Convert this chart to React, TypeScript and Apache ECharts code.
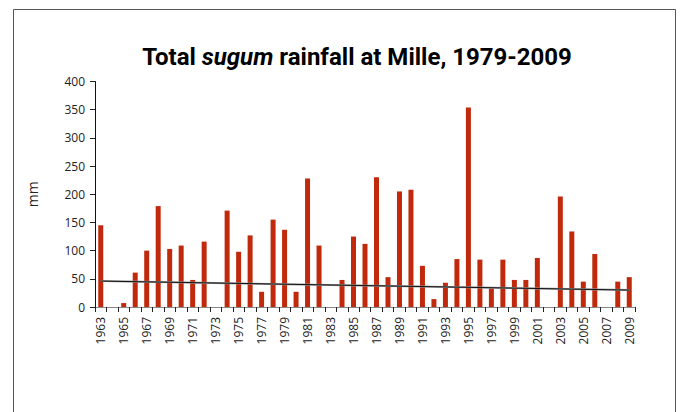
import React, { useEffect, useRef } from "react";
import * as echarts from "echarts";

const years: string[] = [];
for (let y = 1963; y <= 2009; y++) years.push(String(y));

const rainfall: (number | null)[] = [
  145, 0, 7, 61, 100, 179, 103, 109, 48, 116,
  0, 171, 98, 127, 27, 155, 137, 27, 228, 109,
  0, 48, 125, 112, 230, 53, 205, 208, 73, 14,
  43, 85, 354, 84, 33, 84, 48, 48, 87, 0,
  196, 134, 45, 94, 0, 45, 53,
];

const trendStart = 46;
const trendEnd = 30;

const yTicks = { min: 0, max: 400, interval: 50 };

export default function App() {
  const ref = useRef<HTMLDivElement>(null);
  useEffect(() => {
    if (!ref.current) return;
    const chart = echarts.init(ref.current, undefined, { renderer: "svg" });
    const trend = years.map((_, i) =>
      i === 0 ? trendStart : i === years.length - 1 ? trendEnd : null
    );
    chart.setOption({
      animation: false,
      backgroundColor: "#ffffff",
      title: {
        text: "{b|Total }{i|sugum}{b| rainfall at Mille, 1979-2009}",
        left: 352,
        textAlign: "center",
        top: 40,
        textStyle: {
          rich: {
            b: {
              fontFamily: "Liberation Sans Narrow, Roboto",
              fontWeight: "bold",
              fontSize: 24,
              color: "#000",
            },
            i: {
              fontFamily: "Liberation Sans Narrow, Roboto",
              fontWeight: "bold",
              fontStyle: "italic",
              fontSize: 24,
              color: "#000",
            },
          },
        },
      },
      graphic: [
        {
          type: "rect",
          shape: { x: 13.5, y: 9.5, width: 662, height: 420 },
          style: { fill: "none", stroke: "#555", lineWidth: 1 },
          silent: true,
        },
      ],
      grid: { left: 95, right: 46, top: 81.5, bottom: 105 },
      xAxis: {
        type: "category",
        data: years,
        axisLine: { show: true, lineStyle: { color: "#888", width: 1 } },
        axisTick: {
          show: true,
          alignWithLabel: false,
          length: 5,
          lineStyle: { color: "#222" },
          interval: 0,
        },
        axisLabel: {
          interval: 1,
          rotate: 90,
          margin: 10,
          fontFamily: "Open Sans",
          fontSize: 12,
          color: "#222",
        },
      },
      yAxis: {
        type: "value",
        min: yTicks.min,
        max: yTicks.max,
        interval: yTicks.interval,
        name: "mm",
        nameLocation: "middle",
        nameGap: 56,
        nameTextStyle: { fontFamily: "Open Sans", fontSize: 14, color: "#222" },
        axisLine: { show: true, lineStyle: { color: "#111", width: 1 } },
        axisTick: { show: true, length: 5, lineStyle: { color: "#222" } },
        splitLine: { show: false },
        axisLabel: {
          margin: 10,
          fontFamily: "Open Sans",
          fontSize: 12,
          color: "#222",
        },
      },
      series: [
        {
          type: "bar",
          data: rainfall,
          barWidth: 5,
          itemStyle: { color: "#c0290c" },
        },
        {
          type: "line",
          data: trend,
          connectNulls: true,
          symbol: "none",
          lineStyle: { color: "#999", width: 2 },
          z: 3,
        },
        {
          type: "line",
          data: trend,
          connectNulls: true,
          symbol: "none",
          lineStyle: { color: "#111", width: 1 },
          z: 4,
        },
      ],
    });
    return () => chart.dispose();
  }, []);
  return (
    <div
      ref={ref}
      style={{ position: "fixed", left: 0, top: 0, width: 681, height: 412 }}
    />
  );
}
